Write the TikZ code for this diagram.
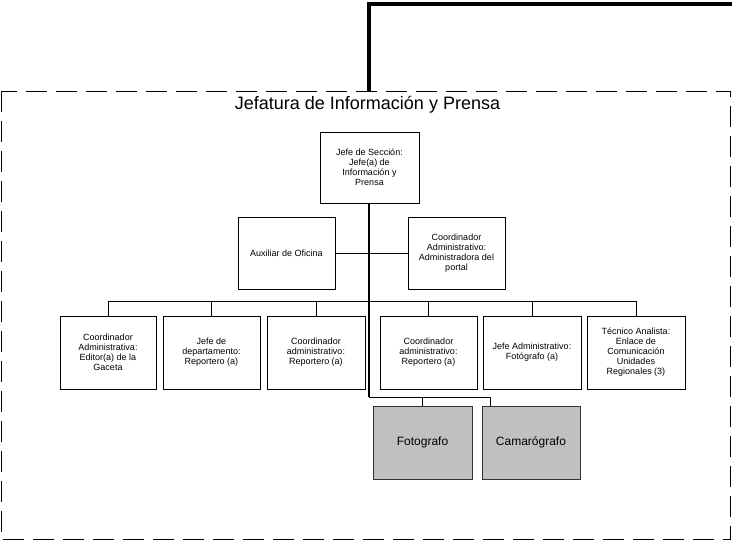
\documentclass[tikz,border=0pt]{standalone}
\usepackage{fontspec}
\setmainfont{Liberation Sans}
\definecolor{boxgray}{HTML}{C0C0C0}
\begin{document}
\begin{tikzpicture}[x=1pt,y=-1pt,
  box/.style={draw, line width=0.8pt, align=center, inner sep=1pt,
    font=\fontsize{9}{10}\selectfont},
  graybox/.style={draw=black!80, fill=boxgray, line width=1pt, align=center,
    minimum width=98pt, minimum height=73pt, font=\fontsize{12}{14}\selectfont},
  conn/.style={line width=0.9pt},
  vert/.style={line width=1.8pt},
  heavy/.style={line width=4pt},
  frame/.style={line width=1pt, dash pattern=on 21pt off 9pt}]
\useasboundingbox (0,0) rectangle (732,541);
% dashed frame
\draw[frame] (1.5,91) rectangle (730.5,539.5);
\node[font=\fontsize{18}{20}\selectfont] (title) at (367.5,105) {Jefatura de Información y Prensa};
% boxes
\node[box, minimum width=99pt, minimum height=71pt] (top) at (369.5,167.5)
  {Jefe de Sección:\\Jefe(a) de\\Información y\\Prensa};
\node[box, minimum width=97pt, minimum height=72pt] (aux) at (286.5,253)
  {Auxiliar de Oficina};
\node[box, minimum width=97pt, minimum height=72pt] (coord) at (456.5,253)
  {Coordinador\\Administrativo:\\Administradora del\\portal};
\node[box, minimum width=96pt, minimum height=73pt] (b1) at (108,352.5)
  {Coordinador\\Administrativa:\\Editor(a) de la\\Gaceta};
\node[box, minimum width=97pt, minimum height=73pt] (b2) at (211.5,352.5)
  {Jefe de\\departamento:\\Reportero (a)};
\node[box, minimum width=98pt, minimum height=73pt] (b3) at (316,352.5)
  {Coordinador\\administrativo:\\Reportero (a)};
\node[box, minimum width=97pt, minimum height=73pt] (b4) at (428.5,352.5)
  {Coordinador\\administrativo:\\Reportero (a)};
\node[box, minimum width=98pt, minimum height=73pt] (b5) at (532,352.5)
  {Jefe Administrativo:\\Fotógrafo (a)};
\node[box, minimum width=98pt, minimum height=73pt] (b6) at (636,352.5)
  {Técnico Analista:\\Enlace de\\Comunicación\\Unidades\\Regionales (3)};
\node[graybox, minimum width=99pt] (foto) at (422.5,442.5) {Fotografo};
\node[graybox] (cam) at (531,442.5) {Camarógrafo};
% coordinates
\coordinate (frametop) at (369,91);
\coordinate (bend) at (369,4);
\coordinate (offpage) at (734,4);
\coordinate (bus) at (369,301);
\coordinate (split) at (369,397);
\coordinate (camin) at (490,406);
% connectors
\draw[heavy] (frametop) -- (bend) -- (offpage);
\draw[conn] (aux.east) -- (coord.west);
\draw[conn] (b1.north) -- (b1.north |- bus) -- (b6.north |- bus) -- (b6.north);
\foreach \n in {b2,b3,b4,b5} \draw[conn] (\n.north) -- (\n.north |- bus);
\draw[conn] (split) -| (foto.north);
\draw[conn] (split) -| (camin);
\draw[vert] (top.south -| split) -- (split);
\end{tikzpicture}
\end{document}
